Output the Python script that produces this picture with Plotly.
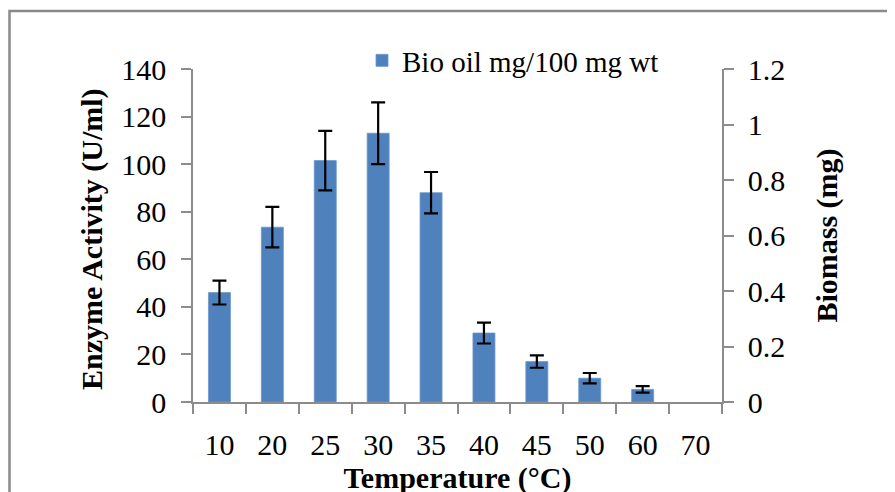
import plotly.graph_objects as go

temperatures = ["10", "20", "25", "30", "35", "40", "45", "50", "60", "70"]
enzyme_activity = [46, 73.5, 101.5, 113, 88, 29, 17, 10, 5.3, None]
errors = [5, 8.5, 12.5, 13, 8.7, 4.4, 2.6, 2.2, 1.4, None]
biomass_ticks = [0, 0.2, 0.4, 0.6, 0.8, 1.0, 1.2]

FONT = "Liberation Serif, Times New Roman, serif"
AXIS_GRAY = "#8c8c8c"

W, H = 895, 492
L, T, R, B = 185, 61, 181, 98   # page body has an 8px offset
pw, ph = W - L - R, H - T - B

fig = go.Figure()
fig.add_trace(go.Bar(
    x=temperatures,
    y=enzyme_activity,
    name="Bio oil mg/100 mg wt",
    marker=dict(color="#4F81BD", line=dict(color="#6C97CC", width=0.8)),
    error_y=dict(type="data", array=errors, visible=True,
                 color="black", thickness=2.2, width=7),
))
# companion (empty) series for the secondary axis
fig.add_trace(go.Scatter(
    x=temperatures, y=[None] * len(temperatures), yaxis="y2",
    showlegend=False, hoverinfo="skip", mode="lines",
))

fig.update_layout(
    width=W, height=H,
    margin=dict(l=L, r=R, t=T, b=B, autoexpand=False),
    paper_bgcolor="white", plot_bgcolor="white",
    font=dict(family=FONT, size=30, color="black"),
    bargap=0.584,
    showlegend=True,
    legend=dict(xref="container", yref="container",
                x=354 / W, y=1 - 27 / H, xanchor="left", yanchor="top",
                bgcolor="rgba(0,0,0,0)", font=dict(size=29, family=FONT),
                itemwidth=30),
    xaxis=dict(
        type="category", range=[-0.5, len(temperatures) - 0.5],
        showline=True, linecolor=AXIS_GRAY, linewidth=1.5,
        ticks="outside", tickson="boundaries", ticklen=10,
        tickcolor=AXIS_GRAY, tickwidth=1.5,
        tickfont=dict(size=30, family=FONT),
        ticklabelstandoff=15,
        showgrid=False, zeroline=False,
        title=dict(text="<b>Temperature (°C)</b>", font=dict(size=30, family=FONT),
                   standoff=2),
    ),
    yaxis=dict(
        range=[0, 140], dtick=20, tick0=0,
        showline=True, linecolor=AXIS_GRAY, linewidth=1.5,
        ticks="outside", ticklen=10, tickcolor=AXIS_GRAY, tickwidth=1.5,
        tickfont=dict(size=30, family=FONT),
        ticklabelstandoff=9,
        showgrid=False, zeroline=False,
    ),
    yaxis2=dict(
        overlaying="y", side="right",
        range=[0, 1.2], tickvals=biomass_ticks,
        showline=True, linecolor=AXIS_GRAY, linewidth=1.5,
        ticks="outside", ticklen=10, tickcolor=AXIS_GRAY, tickwidth=1.5,
        tickfont=dict(size=30, family=FONT),
        ticklabelstandoff=8,
        showgrid=False, zeroline=False,
        title=dict(text="<b>Biomass (mg)</b>", font=dict(size=30, family=FONT),
                   standoff=32),
    ),
)

# left axis title
fig.add_annotation(text="<b>Enzyme Activity (U/ml)</b>", textangle=-90,
                   xref="paper", yref="paper",
                   x=(84 - L) / pw, y=1 - (231 - T) / ph,
                   xanchor="center", yanchor="middle", showarrow=False,
                   font=dict(size=30, family=FONT, color="black"))

# outer chart border (partially outside the visible window, as in the reference)
fig.add_shape(type="rect", xref="paper", yref="paper",
              x0=(1.5 - L) / pw, x1=(W + 10 - L) / pw,
              y0=-(B + 10) / ph, y1=1 + (T - 3) / ph,
              line=dict(color="#8a8a8a", width=2.5), fillcolor="rgba(0,0,0,0)",
              layer="below")

fig.write_html("out.html")
